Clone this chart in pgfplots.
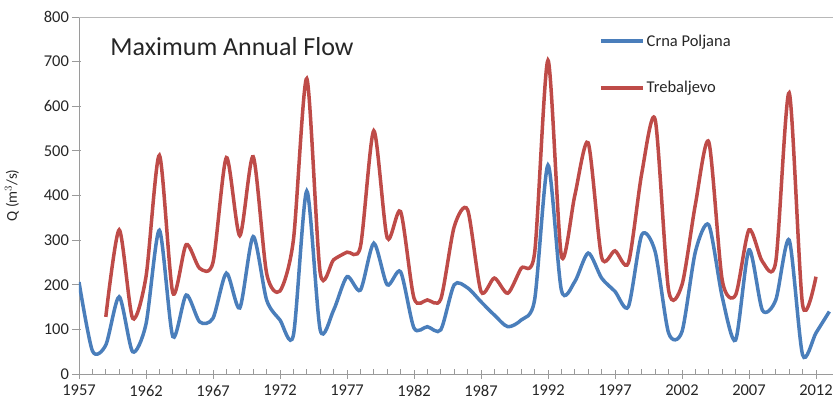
\documentclass[border=0pt]{standalone}
\usepackage{pgfplots}
\pgfplotsset{compat=1.18}
\usepackage{fontspec}
\setmainfont{Carlito}
\definecolor{cpblue}{HTML}{4A7EBB}
\definecolor{trred}{HTML}{BE4B48}
\definecolor{axgray}{HTML}{9A9A9A}
\begin{document}
\begin{tikzpicture}
\begin{axis}[
  at={(0pt,0pt)}, anchor=south west,
  scale only axis, width=754pt, height=357pt,
  xmin=1957, xmax=2013.27, ymin=0, ymax=800,
  axis x line*=bottom, axis y line*=left,
  axis line style={axgray, -, line width=0.8pt},
  xtick={1957,1962,...,2012}, minor x tick num=4,
  ytick={0,100,...,800},
  x tick label style={/pgf/number format/1000 sep={}},
  /pgf/number format/assume math mode=true,
  tick label style={font=\fontsize{16.5}{18}\selectfont, text=black!85},
  xtick style={axgray, line width=0.8pt},
  major x tick style={axgray},
  tick align=center,
  major tick length=9pt, minor tick length=5pt,
  minor x tick style={axgray, line width=0.8pt, yshift=2.5pt},
  ytick style={axgray, line width=0.8pt, xshift=-2.5pt},
  major y tick style={axgray},
  xticklabel style={yshift=-3pt},
  yticklabel style={xshift=-2pt},
  ylabel={Q (m$^{3}$/s)},
  ylabel style={at={(axis description cs:-0.089,0.5)}, anchor=center, font=\fontsize{15}{17}\selectfont, text=black!85},
  legend style={at={(axis description cs:0.6897,0.957)}, anchor=north west, draw=none, fill=none,
    font=\fontsize{16.5}{18}\selectfont, row sep=30pt, inner sep=0pt, text=black!85},
  legend cell align=left,
  legend image code/.code={\draw[#1, line width=3.5pt] (0pt,0pt) -- (42pt,0pt);},
  clip=true,
]
\addplot[cpblue, line width=3.5pt, smooth, tension=0.45] coordinates {
(1957,206) (1958,52) (1959,65) (1960,173) (1961,50) (1962,112) (1963,322) (1964,84)
(1965,177) (1966,117) (1967,125) (1968,226) (1969,148) (1970,308) (1971,166) (1972,121)
(1973,87) (1974,410) (1975,99) (1976,143) (1977,218) (1978,188) (1979,293) (1980,200)
(1981,229) (1982,103) (1983,106) (1984,99) (1985,200) (1986,193) (1987,162) (1988,132)
(1989,106) (1990,121) (1991,166) (1992,468) (1993,188) (1994,207) (1995,271) (1996,215)
(1997,185) (1998,151) (1999,312) (2000,274) (2001,92) (2002,95) (2003,274) (2004,334)
(2005,173) (2006,76) (2007,278) (2008,143) (2009,166) (2010,300) (2011,43) (2012,92) (2013,140)
};
\addlegendentry{Crna Poljana}
\addplot[trred, line width=3.5pt, smooth, tension=0.45] coordinates {
(1959,128) (1960,323) (1961,125) (1962,218) (1963,490) (1964,182) (1965,290) (1966,237)
(1967,250) (1968,485) (1969,310) (1970,487) (1971,226) (1972,186) (1973,300) (1974,662)
(1975,227) (1976,256) (1977,273) (1978,285) (1979,545) (1980,305) (1981,364) (1982,170)
(1983,166) (1984,168) (1985,330) (1986,368) (1987,185) (1988,215) (1989,181) (1990,237)
(1991,271) (1992,703) (1993,265) (1994,400) (1995,518) (1996,262) (1997,276) (1998,249)
(1999,450) (2000,570) (2001,188) (2002,200) (2003,380) (2004,520) (2005,211) (2006,177)
(2007,323) (2008,252) (2009,252) (2010,630) (2011,155) (2012,218)
};
\addlegendentry{Trebaljevo}
\draw[axgray!70, line width=0.8pt] (rel axis cs:0,1) -- (rel axis cs:1,1);
\node[anchor=west, font=\fontsize{26}{30}\selectfont, text=black!85] at (axis description cs:0.037,0.916) {Maximum Annual Flow};
\end{axis}
\pgfresetboundingbox
\path (-79pt,-33pt) rectangle (754pt,374pt);
\end{tikzpicture}
\end{document}
